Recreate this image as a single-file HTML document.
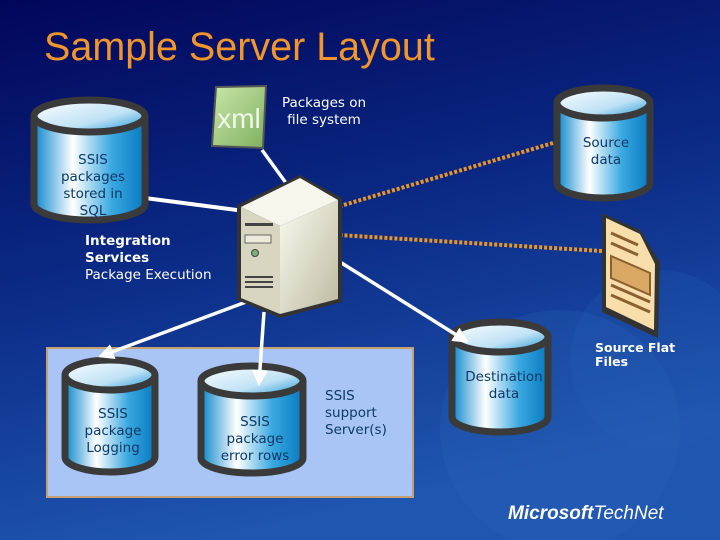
<!DOCTYPE html>
<html><head><meta charset="utf-8"><style>
html,body{margin:0;padding:0}
body{width:720px;height:540px;overflow:hidden;background:#0a1a6a}
svg{display:block}
text{font-family:"DejaVu Sans","Liberation Sans",sans-serif}
</style></head><body>
<svg width="720" height="540" viewBox="0 0 720 540" xmlns="http://www.w3.org/2000/svg">
<defs>
<linearGradient id="bg" x1="0" y1="0" x2="0.3" y2="1">
<stop offset="0" stop-color="#02065a"/><stop offset="0.5" stop-color="#0a2a85"/><stop offset="1" stop-color="#1f56b0"/>
</linearGradient>
<linearGradient id="cyl" x1="0" y1="0" x2="1" y2="0">
<stop offset="0" stop-color="#0a86cc"/><stop offset="0.35" stop-color="#ffffff"/><stop offset="0.7" stop-color="#3aa8e0"/><stop offset="1" stop-color="#0679c0"/>
</linearGradient>
<linearGradient id="top" x1="0" y1="0" x2="1" y2="1">
<stop offset="0" stop-color="#ffffff"/><stop offset="0.6" stop-color="#bfe2f5"/><stop offset="1" stop-color="#1a95d5"/>
</linearGradient>
<linearGradient id="srv" x1="0" y1="0" x2="1" y2="1">
<stop offset="0" stop-color="#fbfaf0"/><stop offset="1" stop-color="#bdbaa0"/>
</linearGradient>
<linearGradient id="xmlg" x1="0" y1="0" x2="1" y2="1">
<stop offset="0" stop-color="#c9e6a8"/><stop offset="1" stop-color="#7fb060"/>
</linearGradient>
<marker id="aw" viewBox="0 0 10 10" refX="8" refY="5" markerWidth="4.5" markerHeight="4.5" orient="auto"><path d="M0,0 L10,5 L0,10 z" fill="#fff"/></marker>
<marker id="ao" viewBox="0 0 10 10" refX="8" refY="5" markerWidth="4.5" markerHeight="4.5" orient="auto"><path d="M0,0 L10,5 L0,10 z" fill="#e8962a"/></marker>
</defs>
<rect width="720" height="540" fill="url(#bg)"/>
<circle cx="560" cy="430" r="120" fill="#2a62b8" opacity="0.25"/>
<circle cx="660" cy="360" r="90" fill="#2a62b8" opacity="0.2"/>

<text x="44" y="60" font-size="39.5" fill="#f0962a" style="font-family:'Liberation Sans',sans-serif">Sample Server Layout</text>

<rect x="47" y="348" width="366" height="149" fill="#a9c5f5" stroke="#c8a070" stroke-width="2"/>

<line x1="145" y1="198" x2="252" y2="212" stroke="#fff" stroke-width="4"/>
<line x1="262" y1="150" x2="294" y2="194" stroke="#fff" stroke-width="3.5" marker-end="url(#aw)"/>
<line x1="553" y1="143" x2="320" y2="212" stroke="#e8962a" stroke-width="4" stroke-dasharray="3,2" marker-end="url(#ao)"/>
<line x1="602" y1="251" x2="322" y2="234" stroke="#e8962a" stroke-width="4" stroke-dasharray="3,2" marker-end="url(#ao)"/>

<polygon points="216,87 266,86 263,148 212,146" fill="url(#xmlg)" stroke="#555" stroke-width="2"/>
<text x="239" y="128" font-size="28" fill="#f4f8ec" text-anchor="middle" style="font-family:'Liberation Sans',sans-serif">xml</text>
<text x="324" y="107" font-size="13.5" fill="#fff" text-anchor="middle">Packages on</text>
<text x="324" y="124" font-size="13.5" fill="#fff" text-anchor="middle">file system</text>

<g stroke="#3a3a3a" stroke-width="7">
<path d="M34,116 v88 a55.5,16 0 0 0 111,0 v-88" fill="url(#cyl)"/>
<ellipse cx="89.5" cy="116" rx="55.5" ry="16" fill="url(#top)"/>
<path d="M557,103 v80 a46.5,15 0 0 0 93,0 v-80" fill="url(#cyl)"/>
<ellipse cx="603.5" cy="103" rx="46.5" ry="15" fill="url(#top)"/>
<path d="M65,375 v82 a45,15 0 0 0 90,0 v-82" fill="url(#cyl)"/>
<ellipse cx="110" cy="375" rx="45" ry="15" fill="url(#top)"/>
<path d="M201,381 v77 a51,15 0 0 0 102,0 v-77" fill="url(#cyl)"/>
<ellipse cx="252" cy="381" rx="51" ry="15" fill="url(#top)"/>
<path d="M452,337 v80 a48,15 0 0 0 96,0 v-80" fill="url(#cyl)"/>
<ellipse cx="500" cy="337" rx="48" ry="15" fill="url(#top)"/>
</g>

<line x1="340" y1="262" x2="466" y2="341" stroke="#fff" stroke-width="3.5" marker-end="url(#aw)"/>
<line x1="246" y1="302" x2="101" y2="356" stroke="#fff" stroke-width="3.5" marker-end="url(#aw)"/>
<line x1="264" y1="312" x2="259" y2="383" stroke="#fff" stroke-width="3.5" marker-end="url(#aw)"/>

<polygon points="237,205 300,175 342,198 342,302 280,318 237,300" fill="#333"/>
<polygon points="241,207 300,178 338,200 280,226" fill="#f7f6ec"/>
<polygon points="280,226 338,200 338,299 280,314" fill="url(#srv)"/>
<polygon points="241,207 280,226 280,314 241,298" fill="#d8d5c0"/>
<rect x="245" y="223" width="28" height="3" fill="#444"/>
<rect x="245" y="235" width="26" height="8" fill="#eeeadb" stroke="#666"/>
<circle cx="255" cy="253" r="3.5" fill="#7cb07a" stroke="#444"/>
<rect x="245" y="276" width="28" height="2" fill="#444"/><rect x="245" y="281" width="28" height="2" fill="#444"/><rect x="245" y="286" width="28" height="2" fill="#444"/>

<g font-size="13.5" fill="#0d3a66" text-anchor="middle">
<text x="93" y="164">SSIS</text><text x="93" y="181">packages</text><text x="93" y="198">stored in</text><text x="93" y="215">SQL</text>
<text x="606" y="147">Source</text><text x="606" y="164">data</text>
<text x="113" y="418">SSIS</text><text x="113" y="435">package</text><text x="113" y="452">Logging</text>
<text x="255" y="426">SSIS</text><text x="255" y="443">package</text><text x="255" y="460">error rows</text>
<text x="504" y="381">Destination</text><text x="504" y="398">data</text>
<text x="325" y="400" text-anchor="start">SSIS</text><text x="325" y="417" text-anchor="start">support</text><text x="325" y="434" text-anchor="start">Server(s)</text>
</g>

<polygon points="602,213 640,230 660,262 658,338 602,312" fill="#333"/>
<polygon points="606,218 640,234 655,264 654,330 606,307" fill="#f7deaa"/>
<g stroke="#8a6030" stroke-width="3">
<line x1="611" y1="233" x2="638" y2="245"/><line x1="611" y1="243" x2="638" y2="255"/>
<line x1="611" y1="285" x2="650" y2="302"/><line x1="611" y1="295" x2="650" y2="312"/>
</g>
<polygon points="611,256 650,273 650,295 611,278" fill="#d9a865" stroke="#8a6030" stroke-width="2"/>

<g font-size="13.5" fill="#fff">
<text x="85" y="245" font-weight="bold">Integration</text>
<text x="85" y="262" font-weight="bold">Services</text>
<text x="85" y="279">Package Execution</text>
<text x="595" y="352" font-size="12.5" font-weight="bold">Source Flat</text>
<text x="595" y="366" font-size="12.5" font-weight="bold">Files</text>
</g>
<text x="508" y="519" font-size="19" fill="#fff" font-weight="bold" font-style="italic" style="font-family:'Liberation Sans',sans-serif">Microsoft<tspan font-weight="normal">TechNet</tspan></text>
</svg>
</body></html>
